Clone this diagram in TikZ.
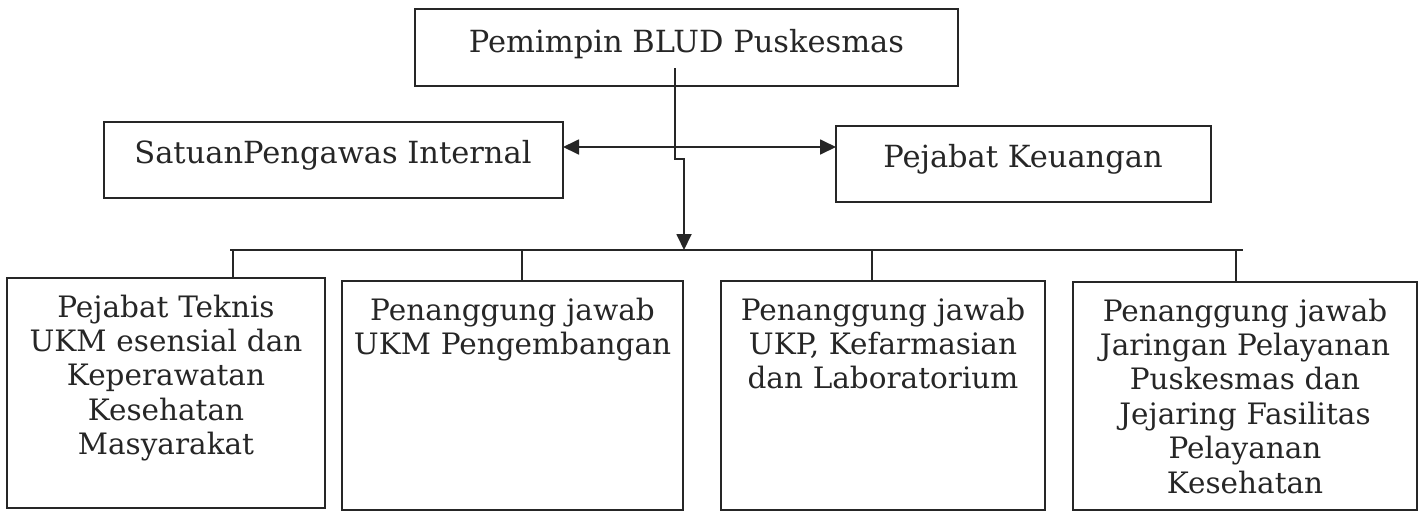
\documentclass[tikz,border=0pt]{standalone}
\usepackage{fontspec}
\setmainfont{DejaVu Serif}
\usetikzlibrary{arrows.meta}
\begin{document}
\begin{tikzpicture}[x=1pt,y=-1pt,
  box/.style={draw=black!85, line width=1.8pt, inner sep=0pt, outer sep=0pt},
  lbl/.style={text=black!85, inner sep=0pt, outer sep=0pt, font=\fontsize{30.5}{34.4}\selectfont},
  mlbl/.style={lbl, align=center, text width=340pt, anchor=base, font=\fontsize{29.5}{34.4}\selectfont},
  conn/.style={draw=black!85, line width=1.8pt},
  hd/.tip={Triangle[length=16pt,width=15pt]}]
\useasboundingbox (0,0) rectangle (1422,512);
% boxes
\node[box, minimum width=543pt, minimum height=77pt] (top) at (686.5,47.5) {};
\node[box, minimum width=459pt, minimum height=76pt] (spi) at (333.5,160) {};
\node[box, minimum width=375pt, minimum height=76pt] (pk) at (1023.5,164) {};
\node[box, minimum width=318pt, minimum height=230pt] (b1) at (166,393) {};
\node[box, minimum width=341pt, minimum height=229pt] (b2) at (512.5,395.5) {};
\node[box, minimum width=324pt, minimum height=229pt] (b3) at (883,395.5) {};
\node[box, minimum width=344pt, minimum height=228pt] (b4) at (1245,396) {};
% texts
\node[lbl, anchor=base] (ttop) at (686.5,52) {Pemimpin BLUD Puskesmas};
\node[lbl, anchor=base] (tspi) at (333,163) {SatuanPengawas Internal};
\node[lbl, anchor=base] (tpk) at (1023,167) {Pejabat Keuangan};
\node[mlbl] (t1) at (166,317) {Pejabat Teknis\\UKM esensial dan\\Keperawatan\\Kesehatan\\Masyarakat};
\node[mlbl] (t2) at (512.5,320) {Penanggung jawab\\UKM Pengembangan};
\node[mlbl] (t3) at (883,320) {Penanggung jawab\\UKP, Kefarmasian\\dan Laboratorium};
\node[mlbl] (t4) at (1245,321) {Penanggung jawab\\Jaringan Pelayanan\\Puskesmas dan\\Jejaring Fasilitas\\Pelayanan\\Kesehatan};
% connectors
\coordinate (vs) at (675,68);
\coordinate (jog) at (675,159);
\coordinate (busl) at (230,250);
\coordinate (busr) at (1243,250);
\coordinate (bus) at (684,250);
\draw[conn, hd-hd] (spi.east |- 0,147) -- (pk.west |- 0,147);
\draw[conn, -hd] (vs) -- (jog) -| (bus);
\draw[conn] (busl) -- (busr);
\draw[conn] (b1.north -| 233,0) -- (233,250);
\draw[conn] (b2.north -| 522,0) -- (522,250);
\draw[conn] (b3.north -| 872,0) -- (872,250);
\draw[conn] (b4.north -| 1236,0) -- (1236,250);
\end{tikzpicture}
\end{document}
